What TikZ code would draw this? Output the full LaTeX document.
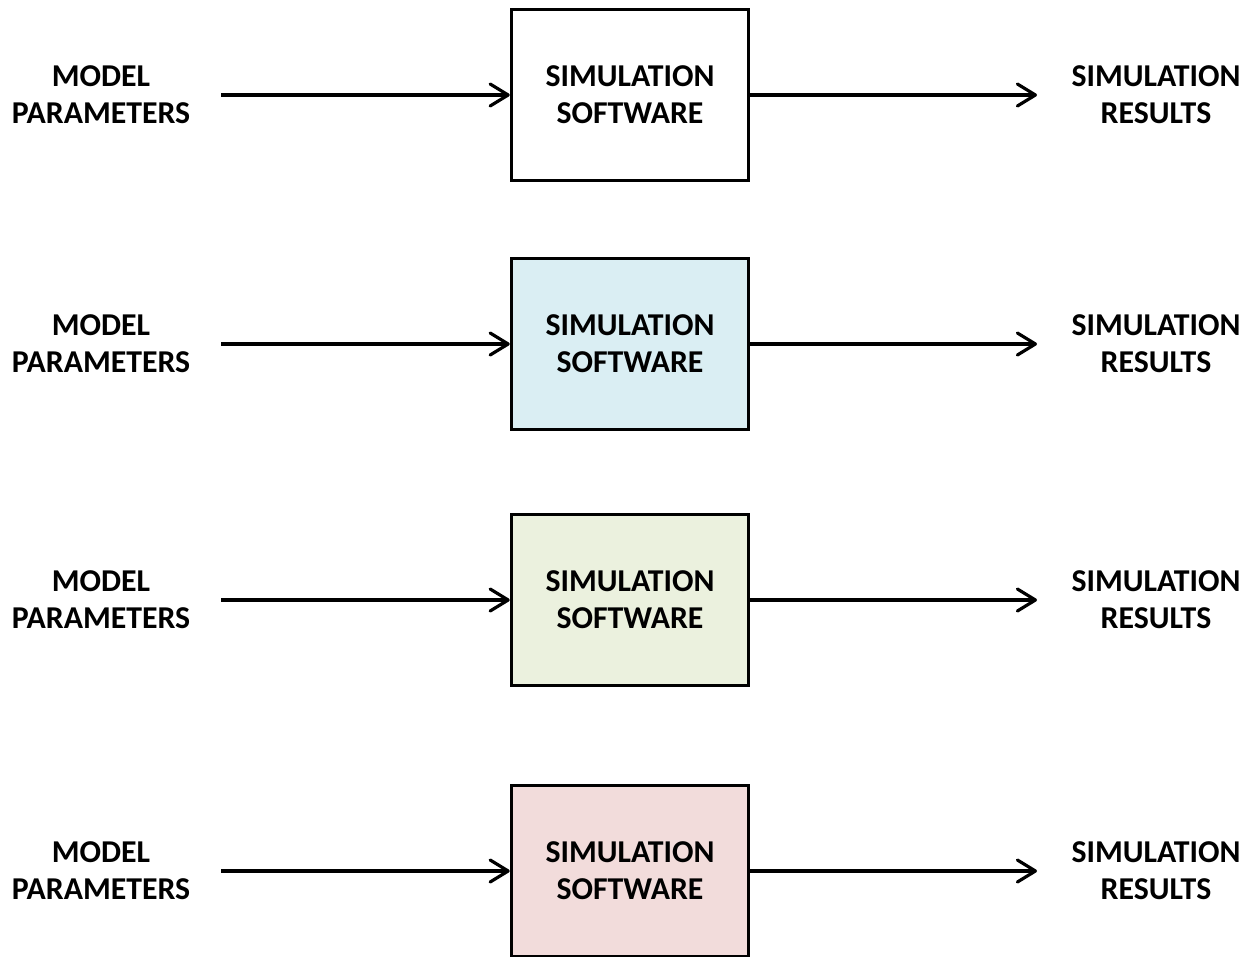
\documentclass[tikz,border=0pt]{standalone}
\usepackage{fontspec}
\setmainfont{Carlito}
\usetikzlibrary{arrows.meta}
\definecolor{fillblue}{HTML}{DAEEF3}
\definecolor{fillgreen}{HTML}{EBF1DE}
\definecolor{fillred}{HTML}{F2DCDB}
\begin{document}
\begin{tikzpicture}[x=1bp,y=-1bp,
  lbl/.style={align=center,inner sep=0pt,font=\fontsize{31.8bp}{37bp}\selectfont\bfseries},
  swbox/.style={lbl,draw=black,line width=3.5bp,minimum width=237bp,minimum height=171bp},
  flow/.style={line width=3.2bp,-{Straight Barb[length=18bp,width=22bp,line cap=round,line join=round]}}]
  \useasboundingbox (0,0) rectangle (1248,957);
  \clip (0,0) rectangle (1248,957);
  \foreach \i/\y/\col in {1/95/white, 2/344/fillblue, 3/600/fillgreen, 4/871/fillred}{
    \node[swbox,fill=\col] (sw\i) at (630,\y) {SIMULATION\\SOFTWARE};
    \node[lbl] (in\i) at (101,\y) {MODEL\\PARAMETERS};
    \node[lbl] (out\i) at (1156,\y) {SIMULATION\\RESULTS};
    \coordinate (src\i) at (221,\y);
    \coordinate (dst\i) at (1037,\y);
    \draw[flow] (src\i) -- (sw\i.west);
    \draw[flow] (sw\i.east) -- (dst\i);
  }
\end{tikzpicture}
\end{document}
